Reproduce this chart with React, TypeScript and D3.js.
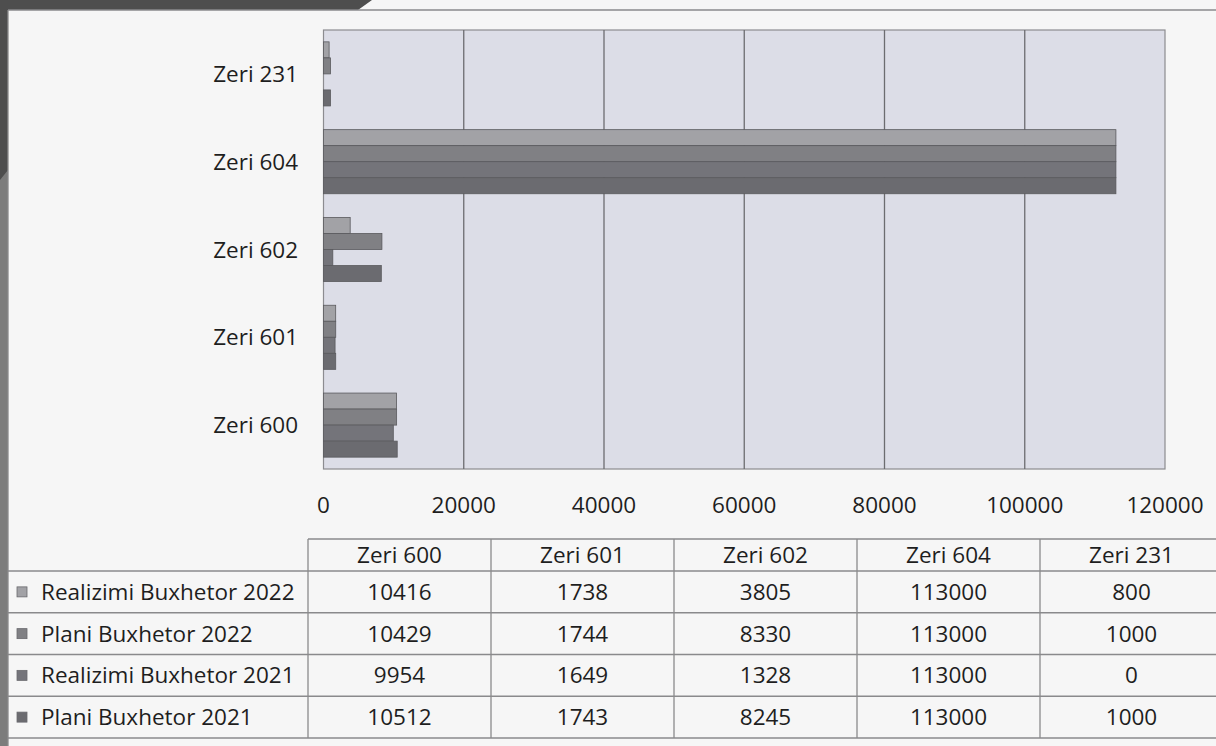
import * as d3 from 'd3'
import React from 'react'

const categories = ['Zeri 600', 'Zeri 601', 'Zeri 602', 'Zeri 604', 'Zeri 231']
const seriesNames = ['Realizimi Buxhetor 2022', 'Plani Buxhetor 2022', 'Realizimi Buxhetor 2021', 'Plani Buxhetor 2021']
const realizimi2022 = [10416, 1738, 3805, 113000, 800]
const plani2022 = [10429, 1744, 8330, 113000, 1000]
const realizimi2021 = [9954, 1649, 1328, 113000, 0]
const plani2021 = [10512, 1743, 8245, 113000, 1000]
const xTicks = [0, 20000, 40000, 60000, 80000, 100000, 120000]

const seriesValues = [realizimi2022, plani2022, realizimi2021, plani2021]
const seriesColors = ['#a2a2a6', '#808084', '#74747a', '#6b6b70']

const W = 1216
const H = 746
const font = "'Open Sans', 'DejaVu Sans', sans-serif"
const fs = 22.5

const App = () => {
    const plot = { left: 323.5, right: 1165, top: 30, bottom: 469 }
    const x = d3.scaleLinear().domain([0, 120000]).range([plot.left, plot.right])
    // top of chart is the last category
    const y = d3.scaleBand().domain([...categories].reverse()).range([plot.top, plot.bottom])
        .paddingInner(0.27).paddingOuter(0.135)
    const ys = d3.scaleBand().domain(seriesNames).range([0, y.bandwidth()])

    // table geometry
    const colX = d3.scaleBand().domain(categories).range([308, 308 + 183 * 5])
    const rowTops = [571, 612.75, 654.5, 696.25, 738]
    const headTop = 539
    const lineCol = '#8a8a8c'

    return (
        <svg width={W} height={H} style={{ position: 'fixed', left: 0, top: 0, background: '#f6f6f6' }}>
            {/* scan edges */}
            <rect x={0} y={0} width={8} height={H} fill="#7c7c7c" />
            <polygon points="0,0 372,0 358,10 8,10 8,170 0,180" fill="#4e4e4e" />
            <line x1={8} y1={10} x2={W} y2={10} stroke={lineCol} strokeWidth={1.3} />
            <line x1={8} y1={10} x2={8} y2={H} stroke={lineCol} strokeWidth={1.3} />

            {/* plot area */}
            <rect x={plot.left} y={plot.top} width={plot.right - plot.left} height={plot.bottom - plot.top}
                fill="#dcdde7" stroke="#8c8c90" strokeWidth={1.2} />
            {xTicks.slice(1, -1).map(t => (
                <line key={t} x1={x(t)} x2={x(t)} y1={plot.top} y2={plot.bottom} stroke="#6c6c70" strokeWidth={1.3} />
            ))}

            {/* bars */}
            {categories.map((c, ci) => (
                <g key={c} transform={`translate(0 ${y(c)})`}>
                    {seriesNames.map((s, si) => {
                        const v = seriesValues[si][ci]
                        if (v <= 0) return null
                        return (
                            <rect key={s} x={x(0)} y={ys(s)} width={x(v) - x(0)} height={ys.bandwidth()}
                                fill={seriesColors[si]} stroke="#5a5a5e" strokeWidth={0.8} />
                        )
                    })}
                </g>
            ))}

            {/* category labels */}
            {categories.map(c => (
                <text key={c} x={298} y={y(c)! + y.bandwidth() / 2} dy="0.36em" textAnchor="end"
                    fontFamily={font} fontSize={fs} fill="#1e1e1e">{c}</text>
            ))}

            {/* x ticks */}
            {xTicks.map(t => (
                <text key={t} x={x(t)} y={505} dy="0.36em" textAnchor="middle"
                    fontFamily={font} fontSize={fs} fill="#1e1e1e">{t}</text>
            ))}

            {/* data table */}
            <line x1={308} y1={headTop} x2={W} y2={headTop} stroke={lineCol} strokeWidth={1.3} />
            {rowTops.map(r => (
                <line key={r} x1={8} y1={r} x2={W} y2={r} stroke={lineCol} strokeWidth={1.3} />
            ))}
            {categories.map(c => (
                <line key={c} x1={colX(c)} y1={headTop} x2={colX(c)} y2={rowTops[4]} stroke={lineCol} strokeWidth={1.3} />
            ))}
            {categories.map(c => (
                <text key={c} x={colX(c)! + colX.bandwidth() / 2} y={(headTop + rowTops[0]) / 2} dy="0.36em"
                    textAnchor="middle" fontFamily={font} fontSize={fs} fill="#1e1e1e">{c}</text>
            ))}
            {seriesNames.map((s, si) => {
                const cy = (rowTops[si] + rowTops[si + 1]) / 2
                return (
                    <g key={s}>
                        <rect x={17} y={cy - 5} width={10} height={10} fill={seriesColors[si]} stroke="#6a6a6e" strokeWidth={0.8} />
                        <text x={41} y={cy} dy="0.36em" fontFamily={font} fontSize={fs} fill="#1e1e1e">{s}</text>
                        {categories.map((c, ci) => (
                            <text key={c} x={colX(c)! + colX.bandwidth() / 2} y={cy} dy="0.36em" textAnchor="middle"
                                fontFamily={font} fontSize={fs} fill="#1e1e1e">{seriesValues[si][ci]}</text>
                        ))}
                    </g>
                )
            })}
        </svg>
    )
}

export default App
